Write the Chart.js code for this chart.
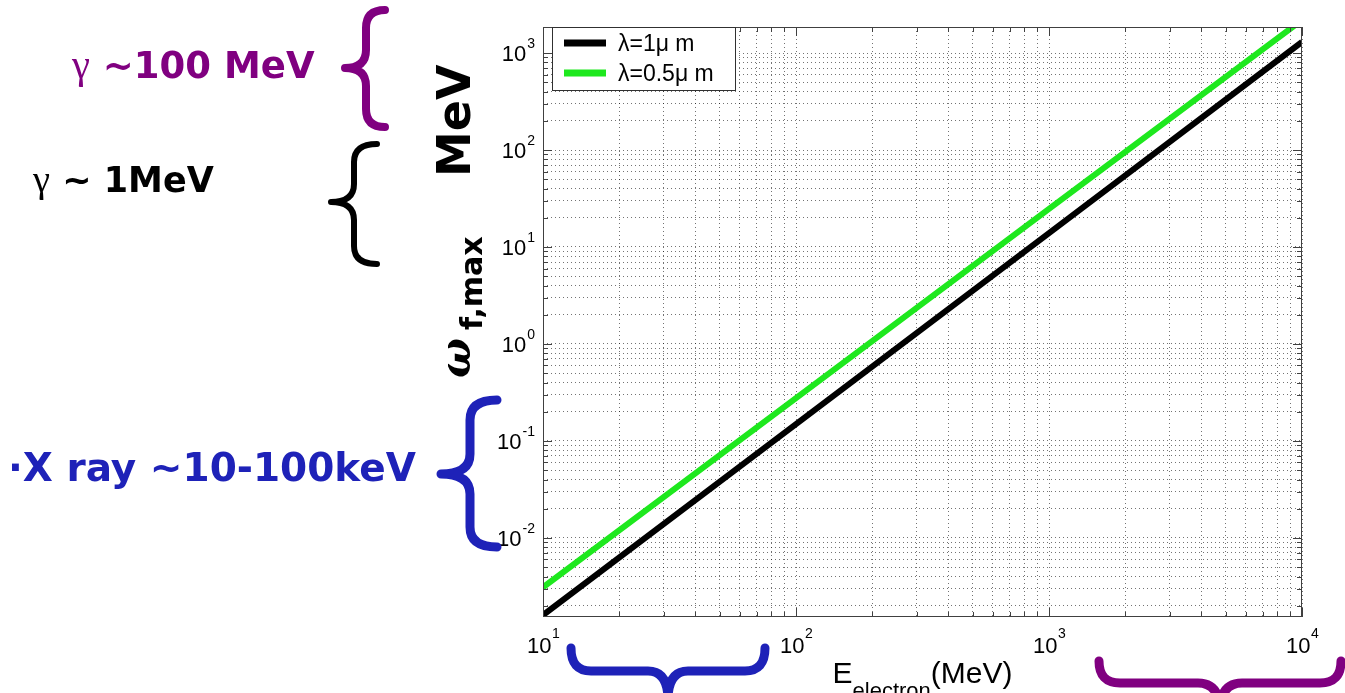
<!DOCTYPE html>
<html>
<head>
<meta charset="utf-8">
<script src="https://cdn.jsdelivr.net/npm/chart.js@4.4.0/dist/chart.umd.min.js"></script>
<style>
html, body { margin: 0; padding: 0; background: #fff; }
#wrap { position: relative; width: 1345px; height: 693px; overflow: hidden; }
#chart { position: absolute; left: 0; top: 0; }
#braces { position: absolute; left: 0; top: 0; }
.note { position: absolute; font-family: "Comic Sans MS", "DejaVu Sans", sans-serif; font-weight: bold; white-space: nowrap; line-height: 1; }
.note .g { font-family: "Liberation Serif", "DejaVu Serif", serif; font-weight: normal; font-size: 1.1em; }
</style>
</head>
<body>
<div id="wrap">
  <canvas id="chart" width="1345" height="693"></canvas>
  <svg id="braces" width="1345" height="693" fill="none" stroke-linecap="round" stroke-linejoin="round">
    <path d="M385 10 Q366 10 366 28 L366 50 Q366 68 345 68 Q366 68 366 86 L366 109 Q366 127 385 127" stroke="#800080" stroke-width="8"/>
    <path d="M377 144 Q354 144 354 162 L354 184 Q354 202 331 202 Q354 202 354 220 L354 246 Q354 264 377 264" stroke="#000" stroke-width="6"/>
    <path d="M497 400 Q470 400 470 420 L470 454 Q470 474 441 474 Q470 474 470 494 L470 527 Q470 547 497 547" stroke="#1e22b8" stroke-width="9"/>
    <path d="M571 648 Q571 671 591 671 L648 671 Q668 671 668 700 Q668 671 688 671 L745 671 Q765 671 765 648" stroke="#1e22b8" stroke-width="9"/>
    <path d="M1099 661 Q1099 683 1120 683 L1198 683 Q1220 683 1220 712 Q1220 683 1242 683 L1320 683 Q1341 683 1341 661" stroke="#800080" stroke-width="9"/>
  </svg>
  <div class="note" style="left:72px; top:45px; font-size:37px; color:#800080;"><span class="g">γ</span> ~100 MeV</div>
  <div class="note" style="left:33px; top:160px; font-size:35px; color:#000;"><span class="g">γ</span> ~ 1MeV</div>
  <div class="note" style="left:8px; top:448px; font-size:39px; color:#1e22b8;">·X ray ~10-100keV</div>
</div>
<script>
// electron energy (MeV) and max scattered photon energy (MeV)
const energies = [10, 100, 1000, 10000];
const omega1um = [0.0016, 0.149, 13.9, 1300];
const omega05um = [0.0031, 0.277, 24.7, 2190];
const seriesLabels = ['λ=1μ m', 'λ=0.5μ m'];
const seriesColors = ['#000000', '#1ee81e'];
const xRange = [10, 10000];
const yRange = [0.00153, 1855];
const xMajorTicks = [10, 100, 1000, 10000];
const yMajorTicks = [0.01, 0.1, 1, 10, 100, 1000];

function logTicks(min, max) {
    var out = [];
    for (var e = Math.floor(Math.log10(min)); e <= Math.ceil(Math.log10(max)); e++) {
        for (var k = 1; k < 10; k++) {
            var v = k * Math.pow(10, e);
            if (v >= min * 0.999 && v <= max * 1.001) out.push({ value: v, major: k === 1 });
        }
    }
    return out;
}

function expOf(v) {
    return String(Math.round(Math.log10(v)));
}

var decor = {
    id: 'decor',
    afterDatasetsDraw: function (chart) {
        var ctx = chart.ctx;
        var a = chart.chartArea;
        var xs = chart.scales.x, ys = chart.scales.y;
        ctx.save();

        // frame
        ctx.strokeStyle = '#404040';
        ctx.lineWidth = 1;
        ctx.strokeRect(a.left + 0.5, a.top + 0.5, a.right - a.left - 1, a.bottom - a.top - 1);

        // inner tick marks on all four sides
        ctx.beginPath();
        xs.ticks.forEach(function (t) {
            var px = Math.round(xs.getPixelForValue(t.value)) + 0.5;
            var len = t.major ? 9 : 5;
            ctx.moveTo(px, a.bottom); ctx.lineTo(px, a.bottom - len);
            ctx.moveTo(px, a.top); ctx.lineTo(px, a.top + len);
        });
        ys.ticks.forEach(function (t) {
            var py = Math.round(ys.getPixelForValue(t.value)) + 0.5;
            var len = t.major ? 9 : 5;
            ctx.moveTo(a.left, py); ctx.lineTo(a.left + len, py);
            ctx.moveTo(a.right, py); ctx.lineTo(a.right - len, py);
        });
        ctx.stroke();

        // tick labels 10^n
        ctx.fillStyle = '#000';
        ctx.textBaseline = 'alphabetic';
        var big = '22px "Liberation Sans", Arial, sans-serif';
        var small = '14px "Liberation Sans", Arial, sans-serif';
        yMajorTicks.forEach(function (v) {
            var py = ys.getPixelForValue(v);
            var ex = expOf(v);
            ctx.font = small;
            ctx.textAlign = 'right';
            ctx.fillText(ex, a.left - 8, py - 5);
            var ew = ctx.measureText(ex).width;
            ctx.font = big;
            ctx.fillText('10', a.left - 9 - ew, py + 8);
        });
        xMajorTicks.forEach(function (v) {
            var px = xs.getPixelForValue(v);
            ctx.textAlign = 'left';
            ctx.font = big;
            ctx.fillText('10', px - 16, 653);
            ctx.font = small;
            ctx.fillText(expOf(v), px + 9, 638);
        });

        // legend box
        ctx.fillStyle = '#fff';
        ctx.fillRect(a.left + 9, a.top, 183, 63);
        ctx.strokeStyle = '#303030';
        ctx.lineWidth = 1;
        ctx.strokeRect(a.left + 9.5, a.top + 0.5, 183, 63);
        chart.data.datasets.forEach(function (ds, i) {
            var ly = a.top + 16 + i * 30;
            ctx.strokeStyle = ds.borderColor;
            ctx.lineWidth = 7;
            ctx.beginPath();
            ctx.moveTo(a.left + 21, ly); ctx.lineTo(a.left + 63, ly);
            ctx.stroke();
            ctx.fillStyle = '#000';
            ctx.font = '23px "Liberation Sans", Arial, sans-serif';
            ctx.textAlign = 'left';
            ctx.fillText(ds.label, a.left + 75, ly + 8);
        });

        // x title: E_electron(MeV)
        ctx.fillStyle = '#000';
        ctx.textAlign = 'left';
        var f1 = '30px "Liberation Sans", Arial, sans-serif';
        var f2 = '22px "Liberation Sans", Arial, sans-serif';
        ctx.font = f1; var w1 = ctx.measureText('E').width, w3 = ctx.measureText('(MeV)').width;
        ctx.font = f2; var w2 = ctx.measureText('electron').width;
        var x0 = (a.left + a.right) / 2 - (w1 + w2 + w3) / 2;
        ctx.font = f1; ctx.fillText('E', x0, 683);
        ctx.font = f2; ctx.fillText('electron', x0 + w1, 698);
        ctx.font = f1; ctx.fillText('(MeV)', x0 + w1 + w2, 683);

        // y title: omega f,max  MeV (rotated)
        ctx.translate(470, 378);
        ctx.rotate(-Math.PI / 2);
        ctx.font = 'italic bold 42px "DejaVu Serif", serif';
        ctx.fillText('ω', 0, 0);
        ctx.font = 'bold 30px "Comic Sans MS", "DejaVu Sans", sans-serif';
        ctx.fillText('f,max', 48, 12);
        ctx.font = 'bold 46px "Comic Sans MS", "DejaVu Sans", sans-serif';
        ctx.fillText('MeV', 201, 0);

        ctx.restore();
    }
};

function gridOpts() {
    return {
        color: 'rgba(0,0,0,0.55)',
        lineWidth: 1,
        drawTicks: false
    };
}

var ctx = document.getElementById('chart').getContext('2d');
var chart = new Chart(ctx, {
    type: 'line',
    data: {
        datasets: [{
            label: seriesLabels[0],
            data: energies.map(function (x, i) { return { x: x, y: omega1um[i] }; }),
            borderColor: seriesColors[0],
            borderWidth: 6,
            pointRadius: 0,
            clip: 0
        }, {
            label: seriesLabels[1],
            data: energies.map(function (x, i) { return { x: x, y: omega05um[i] }; }),
            borderColor: seriesColors[1],
            borderWidth: 6,
            pointRadius: 0,
            clip: 0
        }]
    },
    options: {
        responsive: false,
        animation: false,
        layout: { padding: { left: 543, top: 27, right: 43, bottom: 76 } },
        plugins: { legend: { display: false }, tooltip: { enabled: false } },
        scales: {
            x: {
                type: 'logarithmic',
                min: xRange[0], max: xRange[1],
                ticks: { display: false, autoSkip: false },
                grid: gridOpts(),
                border: { display: false, dash: [1, 3] },
                afterBuildTicks: function (scale) { scale.ticks = logTicks(xRange[0], xRange[1]); }
            },
            y: {
                type: 'logarithmic',
                min: yRange[0], max: yRange[1],
                ticks: { display: false, autoSkip: false },
                grid: gridOpts(),
                border: { display: false, dash: [1, 3] },
                afterBuildTicks: function (scale) { scale.ticks = logTicks(yRange[0], yRange[1]); }
            }
        }
    },
    plugins: [decor]
});
</script>
</body>
</html>
